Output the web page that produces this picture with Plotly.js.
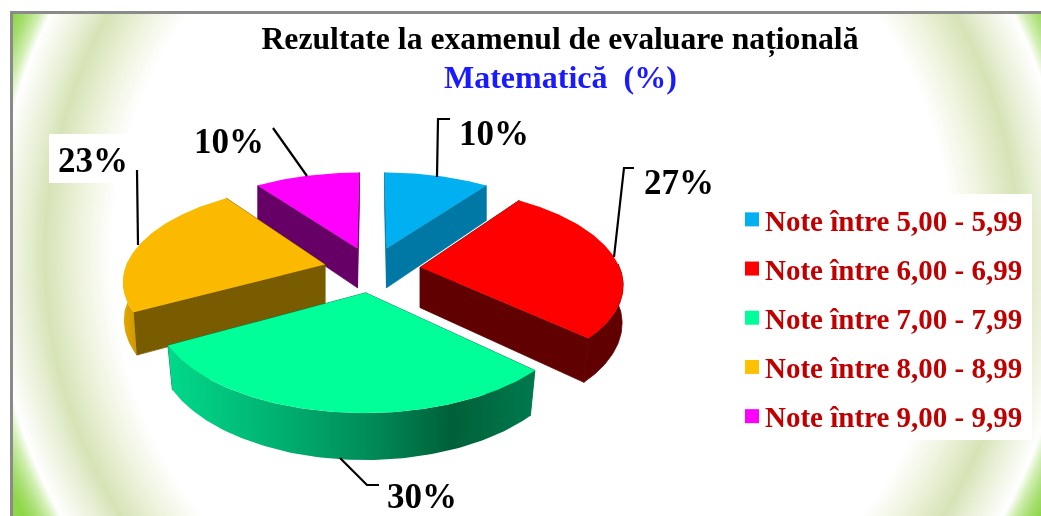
<!DOCTYPE html>
<html><head><meta charset="utf-8">
<script src="https://cdn.plot.ly/plotly-3.0.1.min.js"></script>
<style>
html,body{margin:0;padding:0;background:#fff;overflow:hidden}
#frame{position:absolute;left:10px;top:11px;width:1031px;height:505px;box-sizing:border-box;border-left:3px solid #8a8a8a;border-top:3px solid #8a8a8a;
background:radial-gradient(circle 580px at 519px 241px,#fff 0,#fff 72.4%,#eef3dd 78%,#d6e3b6 84%,#e6eed2 87%,#fff 92.8%,#cfeeb0 94.5%,#a8df72 96.5%,#8fd648 98.5%,#8fd648 100%);}
#plot{position:absolute;left:0;top:0;width:1041px;height:516px;filter:blur(0.35px)}
</style></head><body>
<div id="frame"></div>
<div id="plot"></div>
<script>
const categories=['Note între 5,00 - 5,99','Note între 6,00 - 6,99','Note între 7,00 - 7,99','Note între 8,00 - 8,99','Note între 9,00 - 9,99'];
const percents=[10,27,30,23,10];
const topColors=['#00B0F0','#FF0000','#00FF99','#FBBA00','#FF00FF'];
const wallColors=['#0078A6','#600000','#00784A','#7A5C00','#660066'];
const swatchColors=['#00B0F0','#FF0000','#00FF99','#FFC000','#FF00FF'];

// projection of the tilted, exploded pie
const cx=372,cy=269.4,R=200,Ry=93.6,K=0.154,PULL=0.243,DEPTH=40.5;
const rad=d=>d*Math.PI/180;
function project(X,Y,low){
  const s=1/(1-K*Y);
  let x=cx+R*X*s,y=cy+Ry*Y*s;
  if(low){x-=(x-cx)*0.03*Math.max(Y,0);y+=DEPTH*(1+0.13*Y);}
  return [x,y];
}
const total=percents.reduce((a,b)=>a+b,0);
let acc=0;
const slices=percents.map((v,i)=>{
  const a0=acc/total*360;acc+=v;const a1=acc/total*360;const m=(a0+a1)/2;
  return {i,a0,a1,px:PULL*Math.sin(rad(m)),py:-PULL*Math.cos(rad(m))};
});
const rim=(s,t,low)=>project(s.px+Math.sin(rad(t)),s.py-Math.cos(rad(t)),low);
const apex=(s,low)=>project(s.px,s.py,low);
function poly(pts,color,extra,lw){
  const xs=pts.map(p=>p[0]),ys=pts.map(p=>p[1]);xs.push(xs[0]);ys.push(ys[0]);
  return Object.assign({type:'scatter',mode:'lines',x:xs,y:ys,fill:'toself',fillcolor:color,
    line:{width:lw||0,color:color},hoverinfo:'skip',showlegend:false},extra||{});
}
function arcAngles(a,b){const o=[];const n=Math.max(2,Math.ceil(b-a));for(let k=0;k<=n;k++)o.push(a+(b-a)*k/n);return o;}
const traces=[];
const drawOrder=[0,4,3,1,2];
const outerFill={
 1:{color:'#600000',lw:0.8},
 2:{color:'#00784A',extra:{fillgradient:{type:'horizontal',start:170,stop:540,colorscale:[[0,'#00D88A'],[0.3,'#00B070'],[0.55,'#008A58'],[0.76,'#006038'],[1,'#007A50']]}}},
 3:{color:'#DDA400',extra:{fillgradient:{type:'horizontal',start:120,stop:140,colorscale:[[0,'#E8AC00'],[1,'#C89400']]}}}
};
drawOrder.forEach(i=>{
  const s=slices[i];
  const wall=wallColors[i];
  [s.a0,s.a1].forEach(t=>{
    traces.push(poly([apex(s),rim(s,t),rim(s,t,true),apex(s,true)],wall,null,0.8));
  });
  const from=Math.max(s.a0,88),to=Math.min(s.a1,272);
  if(to>from){
    const ang=arcAngles(from,to);
    const pts=ang.map(t=>rim(s,t)).concat(ang.slice().reverse().map(t=>rim(s,t,true)));
    const f=outerFill[i]||{color:wall};
    traces.push(poly(pts,f.color,f.extra,f.lw));
  }
  const ang=arcAngles(s.a0,s.a1);
  traces.push(poly([apex(s)].concat(ang.map(t=>rim(s,t))),topColors[i]));
});
categories.forEach((c,i)=>{
  traces.push({type:'scatter',mode:'markers',x:[null],y:[null],name:c,legendgroup:'g'+i,
    marker:{symbol:'square',size:14,color:swatchColors[i]},hoverinfo:'skip',showlegend:true});
});
const serif='"Liberation Serif", serif';
const labelPos=[[494,133.5],[679,182.5],[422,496],[93,160.5],[229,141]];
const leaders=['M437,177 L438,119 L450,119','M614,257 L624,168 L634,168','M340,458 L367,485 L379,485','M138,245 L137,170','M307,176 L273,128'];
const layout={
  width:1041,height:516,margin:{l:0,r:0,t:0,b:0},
  paper_bgcolor:'rgba(0,0,0,0)',plot_bgcolor:'rgba(0,0,0,0)',
  xaxis:{range:[0,1041],visible:false,fixedrange:true},
  yaxis:{range:[516,0],visible:false,fixedrange:true},
  title:{text:'Rezultate la examenul de evaluare națională',x:560/1041,xanchor:'center',y:1-38/516,yanchor:'middle',
    font:{family:serif,size:31.7,color:'#000',weight:700}},
  annotations:[
    {text:'<b>Matematică  (%)</b>',xref:'x',yref:'y',x:560,y:77,showarrow:false,font:{family:serif,size:32,color:'#1A1AFF'}}
  ].concat(percents.map((v,i)=>({text:'<b>'+v+'%</b>',xref:'x',yref:'y',x:labelPos[i][0],y:labelPos[i][1],showarrow:false,
     font:{family:serif,size:35,color:'#000'}}))),
  shapes:[
    {type:'rect',xref:'x',yref:'y',x0:735,x1:1032,y0:194,y1:440,fillcolor:'#fff',line:{width:0},layer:'below'},
    {type:'rect',xref:'x',yref:'y',x0:49,x1:132,y0:134,y1:183,fillcolor:'#fff',line:{width:0},layer:'below'}
  ].concat(leaders.map(p=>({type:'path',xref:'x',yref:'y',path:p,line:{color:'#000',width:2.2},layer:'above'}))),
  legend:{x:725/1041,y:1-194/516,xanchor:'left',yanchor:'top',bgcolor:'rgba(0,0,0,0)',borderwidth:0,
    font:{family:serif,size:29,color:'#C00000',weight:700},traceorder:'grouped',tracegroupgap:8.5,itemclick:false,itemdoubleclick:false,itemwidth:30},
  hovermode:false
};
Plotly.newPlot('plot',traces,layout,{displayModeBar:false,staticPlot:true}).then(()=>{
  document.querySelectorAll('#plot .legendsymbols').forEach(el=>el.setAttribute('transform','translate(7,0)'));
});
</script></body></html>
